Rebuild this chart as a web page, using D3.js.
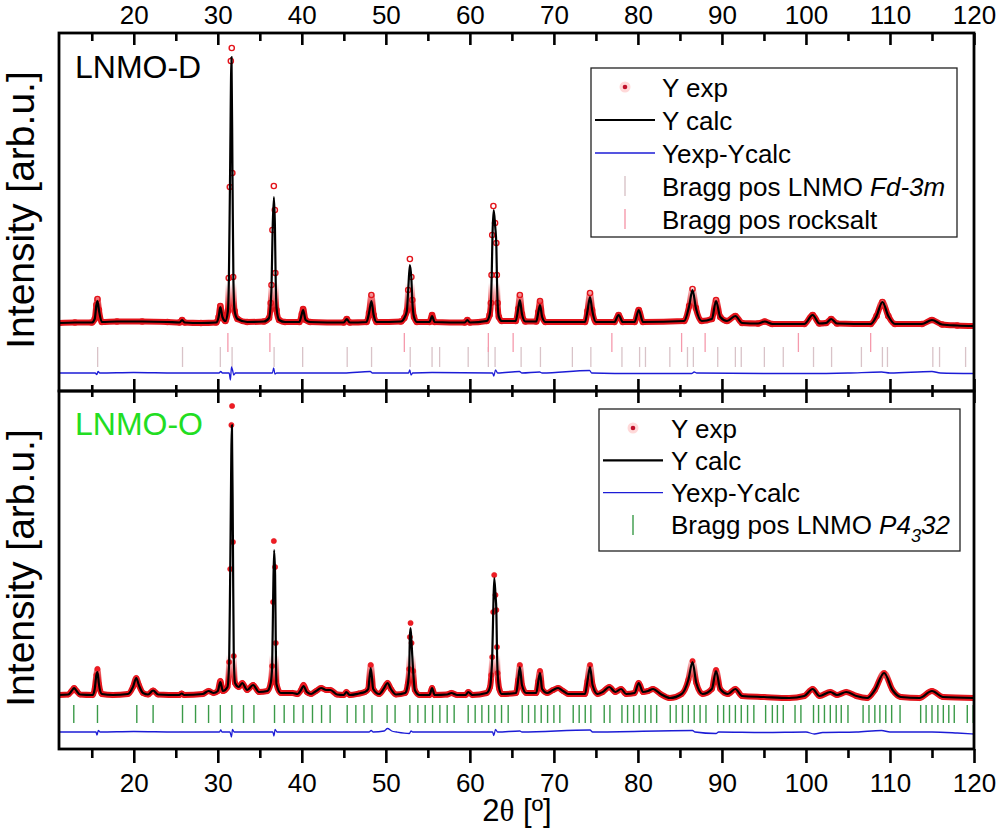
<!DOCTYPE html>
<html>
<head>
<meta charset="utf-8">
<script src="https://cdn.jsdelivr.net/npm/d3@7"></script>
<style>
  body { margin: 0; background: #fff; }
  text { font-family: "Liberation Sans", Arial, sans-serif; }
</style>
</head>
<body>
<svg id="chart" width="1000" height="829"></svg>
<script>
// x axis ticks (2theta, degrees)
var xMajor = [20, 30, 40, 50, 60, 70, 80, 90, 100, 110, 120];
var xMinor = [15, 25, 35, 45, 55, 65, 75, 85, 95, 105, 115];

// ---- LNMO-D (top panel), intensity in arb. units, baseline = 0 ----
var dExp = [[11.1,0],[13,0.5],[15,0.5],[15.35,4],[15.55,18],[15.68,24],[15.85,13],[16.2,1],[18,1.5],[21,1.5],[24,1],
  [25.45,0.5],[25.75,3],[26.05,0.5],[28,0],[29.8,0.5],[30.1,6],[30.3,17],[30.55,6],[30.9,2],
  [31.2,12],[31.3,45],[31.43,136],[31.55,262],[31.66,275],[31.73,150],[31.83,46],[32,12],[32.35,4],[33.5,1],
  [35.5,1.5],[36.1,5],[36.3,20],[36.39,38],[36.5,93],[36.67,137],[36.79,113],[36.85,50],[36.98,13],[37.3,3],[38,1],
  [39.7,1],[40,9],[40.15,14],[40.45,3],[41,1],[45,0.5],[45.35,4],[45.7,0.5],[47.7,1],[48,10],[48.28,28],[48.55,8],[48.9,1],
  [51.8,1.5],[52.2,5],[52.5,12],[52.66,33],[52.86,64],[53.04,46],[53.15,23],[53.35,6],[53.7,1],
  [55.2,1],[55.5,8],[55.8,1],[59.4,0.5],[59.7,3],[60,0.5],[62,2],[62.35,8],[62.5,20],[62.58,48],[62.66,88],[62.8,117],
  [63,100],[63.15,80],[63.21,48],[63.3,20],[63.45,6],[63.8,2],[65.45,2],[65.75,14],[65.95,28],[66.2,9],[66.6,1.5],
  [67.9,1.5],[68.15,11],[68.35,22],[68.6,6],[69,1],[73.7,1],[74,12],[74.3,30],[74.55,13],[75,1],
  [77.2,1],[77.7,8],[78.2,1],[79.6,1],[80.1,13],[80.6,1],[85.5,2],[86.1,17],[86.5,34],[86.9,15],[87.6,2],
  [88.8,4],[89.3,23],[89.8,6],[90.6,2],[91.6,7],[92.4,0],[94.3,-0.5],[95.1,1.5],[96,-1],[99.8,-1],[100.8,8],[101.6,-0.5],
  [102.4,0],[103,4],[103.7,-0.5],[107.7,-1],[108.4,7],[109.1,21],[109.8,7],[110.6,-1],[113.8,-1],[115,3],[116.2,-1.5],
  [118,-2.5],[120,-3]];

var dCalc = [[11.1,0],[13,0.5],[15,0.5],[15.35,4],[15.55,18],[15.68,22],[15.85,13],[16.2,1],[18,1.5],[21,1.5],[24,1],
  [25.45,0.5],[25.75,3],[26.05,0.5],[28,0],[29.8,0.5],[30.1,6],[30.3,16],[30.55,6],[30.9,2],
  [31.2,12],[31.32,45],[31.45,140],[31.63,266],[31.75,145],[31.86,42],[32,12],[32.35,4],[33.5,1],
  [35.5,1.5],[36.1,5],[36.3,20],[36.4,38],[36.52,92],[36.68,126],[36.8,96],[36.88,48],[37,14],[37.3,3],[38,1],
  [39.7,1],[40,9],[40.15,13],[40.45,3],[41,1],[45,0.5],[45.35,4],[45.7,0.5],[47.7,1],[48,10],[48.28,22],[48.55,8],[48.9,1],
  [51.8,1.5],[52.2,5],[52.5,12],[52.66,33],[52.86,58],[53.04,44],[53.15,22],[53.35,6],[53.7,1],
  [55.2,1],[55.5,7],[55.8,1],[59.4,0.5],[59.7,3],[60,0.5],[62,2],[62.35,8],[62.5,20],[62.6,48],[62.7,90],[62.84,113],
  [63.02,96],[63.15,78],[63.22,46],[63.3,20],[63.45,6],[63.8,2],[65.45,2],[65.75,14],[65.95,23],[66.2,9],[66.6,1.5],
  [67.9,1.5],[68.15,11],[68.35,18],[68.6,6],[69,1],[73.7,1],[74,12],[74.3,26],[74.55,13],[75,1],
  [77.2,1],[77.7,8],[78.2,1],[79.6,1],[80.1,13],[80.6,1],[85.5,2],[86.1,17],[86.5,33],[86.9,15],[87.6,2],
  [88.8,4],[89.3,22],[89.8,6],[90.6,2],[91.6,7],[92.4,0],[94.3,-0.5],[95.1,1.5],[96,-1],[99.8,-1],[100.8,8],[101.6,-0.5],
  [102.4,0],[103,4],[103.7,-0.5],[107.7,-1],[108.4,7],[109.1,21],[109.8,7],[110.6,-1],[113.8,-1],[115,3],[116.2,-1.5],
  [118,-2.5],[120,-3]];

var dDiff = [[11.1,-50],[15.4,-50],[15.6,-51.5],[15.75,-48.5],[15.95,-50],[20,-49.5],[25,-50],[30.15,-50],[30.35,-48.5],
  [30.55,-50],[31.35,-50],[31.5,-57],[31.63,-44],[31.75,-47],[31.9,-52],[32.1,-50],[36.5,-50],[36.65,-45],[36.8,-51],
  [37,-50],[45,-50],[48.15,-48.5],[48.4,-50],[52.7,-50],[52.85,-47],[53,-52],[53.2,-50],[55.5,-49.5],[62.7,-50],
  [62.85,-53],[63.05,-47],[63.3,-50],[65.9,-48.5],[66.2,-50],[68.3,-49],[68.6,-50],[74.25,-47.5],[74.5,-50],[80,-50.5],
  [86.4,-50.5],[86.7,-49],[87,-50],[95,-50.5],[100,-50.5],[105,-50],[109,-49],[110,-50],[115,-48.5],[116,-50],[120,-50.5]];

var braggFd3m = [15.7, 25.8, 30.3, 31.7, 36.7, 40.1, 45.4, 48.3, 52.9, 55.5, 56.4, 59.8, 62.2, 63.0, 66.1, 68.4,
  72.2, 74.4, 78.1, 80.2, 80.9, 83.8, 85.9, 86.6, 89.5, 91.6, 92.3, 95.05, 97.3, 100.9, 103.05, 106.6, 109.1, 109.7,
  115.1, 115.9, 119.0];
var braggRocksalt = [31.2, 36.2, 52.2, 62.2, 65.15, 76.9, 85.2, 88.0, 99.1, 107.7];

// ---- LNMO-O (bottom panel) ----
var oExp = [[11.1,0],[12.2,0.5],[12.6,4],[12.9,7],[13.2,4],[13.6,0.5],[15.1,0],[15.35,6],[15.55,20],[15.68,26],[15.85,11],
  [16.2,1],[17.5,0],[19.3,1],[19.9,8],[20.3,17],[20.6,10],[21.1,2],[21.7,0.5],[22.3,4.5],[22.9,0.5],[25.4,0],[25.7,1.5],
  [26,0],[28.2,1],[28.9,4],[29.5,2],[30,4],[30.3,14],[30.6,4],[31.15,8],[31.35,33],[31.48,126],[31.62,270],[31.7,289],
  [31.8,153],[31.9,39],[32.05,12],[32.5,8],[32.9,12],[33.5,5],[34.2,10],[34.9,3],[35.9,4],[36.3,12],[36.47,29],[36.58,93],
  [36.67,154],[36.82,128],[36.9,52],[36.98,11],[37.5,2],[38.9,2],[39.5,1],[39.9,5],[40.2,10],[40.6,3],[41.1,1],[41.7,4],
  [42.3,7],[42.9,5],[43.4,5],[44.2,0.5],[45,0],[45.3,3],[45.7,0],[46.8,1.5],[47.5,3],[47.9,6],[48.2,30],[48.5,6],[49.2,1],
  [49.8,7],[50.2,12],[50.6,6],[51.2,0.5],[52.3,2],[52.6,10],[52.78,26],[52.86,58],[52.94,72],[53.06,52],[53.25,24],
  [53.45,5],[54,0],[55.2,0],[55.5,7],[55.8,0],[57.3,0.5],[57.8,2],[58.5,0],[59.5,0],[59.8,3],[60.3,0],[62,2],[62.4,8],
  [62.55,20],[62.66,38],[62.78,83],[62.9,120],[63.05,100],[63.15,85],[63.22,48],[63.3,22],[63.5,6],[63.8,1],[65.5,2],
  [65.75,15],[65.95,30],[66.2,10],[66.7,2],[67.9,2],[68.15,14],[68.35,24],[68.6,6],[69.2,2],[69.9,5],[70.5,7],[71.1,4],
  [71.7,1],[73.7,1],[74,14],[74.3,30],[74.6,10],[75.2,1],[75.8,3],[76.6,8],[77.3,3],[78,6],[78.6,1],[79.6,2],[80.1,12],
  [80.6,3],[81.2,4],[81.8,6],[82.7,1],[83.8,-3],[85.2,1],[86,15],[86.5,34],[86.95,12],[87.7,1],[88.8,6],[89.3,25],
  [89.8,6],[90.7,1],[91.6,6],[92.4,-1],[95,-2],[98,-3],[99.8,-1],[100.8,6],[101.6,-1],[102.9,3],[103.7,0],[104.8,3],
  [106,-1],[107.3,-3],[108.2,5],[109.3,22],[110.3,5],[111.3,-2],[113.5,-3],[115,4],[116.3,-2],[120,-3]];

var oCalc = [[11.1,0],[12.2,0.5],[12.6,4],[12.9,7],[13.2,4],[13.6,0.5],[15.1,0],[15.35,6],[15.55,20],[15.68,23],[15.85,11],
  [16.2,1],[17.5,0],[19.3,1],[19.9,8],[20.3,17],[20.6,10],[21.1,2],[21.7,0.5],[22.3,4.5],[22.9,0.5],[25.4,0],[25.7,1.5],
  [26,0],[28.2,1],[28.9,4],[29.5,2],[30,4],[30.3,13],[30.6,4],[31.15,8],[31.35,33],[31.48,126],[31.68,270],
  [31.8,153],[31.9,39],[32.05,12],[32.5,8],[32.9,12],[33.5,5],[34.2,10],[34.9,3],[35.9,4],[36.3,12],[36.47,29],[36.58,93],
  [36.7,145],[36.82,120],[36.9,52],[36.98,11],[37.5,2],[38.9,2],[39.5,1],[39.9,5],[40.2,9],[40.6,3],[41.1,1],[41.7,4],
  [42.3,7],[42.9,5],[43.4,5],[44.2,0.5],[45,0],[45.3,3],[45.7,0],[46.8,1.5],[47.5,3],[47.9,6],[48.2,27],[48.5,6],[49.2,1],
  [49.8,7],[50.2,12],[50.6,6],[51.2,0.5],[52.3,2],[52.6,10],[52.78,26],[52.86,58],[52.94,67],[53.06,52],[53.25,24],
  [53.45,5],[54,0],[55.2,0],[55.5,7],[55.8,0],[57.3,0.5],[57.8,2],[58.5,0],[59.5,0],[59.8,3],[60.3,0],[62,2],[62.4,8],
  [62.55,20],[62.66,38],[62.78,83],[62.9,117],[63.05,100],[63.15,85],[63.22,48],[63.3,22],[63.5,6],[63.8,1],[65.5,2],
  [65.75,15],[65.95,28],[66.2,10],[66.7,2],[67.9,2],[68.15,14],[68.35,22],[68.6,6],[69.2,2],[69.9,5],[70.5,7],[71.1,4],
  [71.7,1],[73.7,1],[74,14],[74.3,28],[74.6,10],[75.2,1],[75.8,3],[76.6,8],[77.3,3],[78,6],[78.6,1],[79.6,2],[80.1,12],
  [80.6,3],[81.2,4],[81.8,6],[82.7,1],[83.8,-3],[85.2,1],[86,15],[86.5,33],[86.95,12],[87.7,1],[88.8,6],[89.3,24],
  [89.8,6],[90.7,1],[91.6,6],[92.4,-1],[95,-2],[98,-3],[99.8,-1],[100.8,6],[101.6,-1],[102.9,3],[103.7,0],[104.8,3],
  [106,-1],[107.3,-3],[108.2,5],[109.3,22],[110.3,5],[111.3,-2],[113.5,-3],[115,4],[116.3,-2],[120,-3]];

var oDiff = [[11.1,-37],[15.5,-37],[15.62,-40],[15.78,-35.5],[16,-37],[20,-36.5],[25,-37],[30.2,-37],[30.35,-35],
  [30.5,-37],[31.45,-37],[31.62,-42],[31.75,-34.5],[31.95,-37],[36.55,-37],[36.68,-41],[36.82,-34.5],[37.05,-37],
  [40,-37],[48,-37],[48.25,-35.5],[48.5,-37],[49.8,-36],[50.2,-33.5],[50.7,-36],[51.3,-37],[52.8,-38.5],[53,-36],
  [53.2,-37],[62.7,-37],[62.85,-40.5],[63.05,-34.5],[63.3,-37],[65.95,-36],[66.2,-37],[74.3,-35],[74.6,-37],
  [86.5,-35.5],[86.8,-37],[89.3,-38.5],[89.6,-37],[95,-37.5],[100,-37],[101,-39],[102,-37.5],[106,-37],[109,-35.5],
  [110,-37],[115,-37],[118,-38],[120,-39]];

var braggP4332 = [12.86, 15.68, 20.36, 22.3, 25.8, 27.35, 28.9, 30.3, 31.67, 33.06, 34.3, 36.75, 37.9, 39.05, 40.15,
  41.27, 42.35, 43.37, 45.4, 46.43, 47.4, 48.35, 50.15, 51.1, 52.86, 53.81, 54.68, 55.56, 56.43, 57.3, 58.13, 59.8,
  60.63, 61.43, 62.23, 62.98, 63.77, 64.56, 66.23, 66.98, 67.74, 68.49, 69.25, 70.0, 70.71, 72.3, 73.01, 73.73, 74.4,
  75.99, 76.67, 78.1, 78.77, 79.49, 80.15, 80.87, 81.55, 82.23, 83.85, 84.55, 85.3, 86.0, 86.7, 87.4, 88.1, 89.5,
  90.2, 90.9, 91.6, 92.3, 93.05, 93.8, 95.2, 96.0, 96.6, 97.3, 98.7, 99.4, 100.9, 101.5, 102.2, 102.9, 103.6, 104.2,
  105.0, 106.8, 107.5, 108.2, 108.8, 109.5, 110.2, 111.2, 113.65, 114.3, 115.0, 115.7, 116.35, 117.0, 117.65, 119.2,
  119.9];

var left = 59, right = 974;
var svg = d3.select("#chart");

var x = d3.scaleLinear().domain([11.1, 120]).range([left, right]);

var cRed = "#e3141b", cBlue = "#1c1cd6", cGreen = "#3a9a48";

function drawPanel(p) {
  var y = d3.scaleLinear().domain(p.yDomain).range([p.bottom, p.top]);
  var g = svg.append("g");

  g.append("clipPath").attr("id", "clip" + p.id)
    .append("rect").attr("x", left).attr("y", p.top).attr("width", right - left).attr("height", p.bottom - p.top);

  // the exp markers only merge into a solid band where the pattern is flat-ish,
  // so fade the band out going up the tall peaks
  var grad = g.append("linearGradient").attr("id", "fade" + p.id)
    .attr("gradientUnits", "userSpaceOnUse")
    .attr("x1", 0).attr("x2", 0).attr("y1", y(40)).attr("y2", y(14));
  grad.append("stop").attr("offset", 0).attr("stop-color", "#fff").attr("stop-opacity", 0);
  grad.append("stop").attr("offset", 1).attr("stop-color", "#fff").attr("stop-opacity", 1);
  g.append("mask").attr("id", "band" + p.id)
    .attr("maskUnits", "userSpaceOnUse")
    .attr("x", left).attr("y", p.top).attr("width", right - left).attr("height", p.bottom - p.top)
    .append("rect").attr("x", left).attr("y", p.top).attr("width", right - left).attr("height", p.bottom - p.top)
    .attr("fill", "url(#fade" + p.id + ")");

  var plot = g.append("g").attr("clip-path", "url(#clip" + p.id + ")");

  // bragg position rows
  p.bragg.forEach(function(b) {
    plot.selectAll(null).data(b.pos).enter().append("line")
      .attr("x1", function(d) { return x(d); })
      .attr("x2", function(d) { return x(d); })
      .attr("y1", y(b.from)).attr("y2", y(b.to))
      .attr("stroke", b.color).attr("stroke-width", b.w);
  });

  var line = d3.line()
    .x(function(d) { return x(d[0]); })
    .y(function(d) { return y(d[1]); })
    .curve(d3.curveMonotoneX);

  // Yexp - Ycalc
  plot.append("path").attr("d", line(p.diff))
    .attr("fill", "none").attr("stroke", cBlue).attr("stroke-width", 1.3);

  // Y exp
  plot.append("path").attr("d", line(p.exp))
    .attr("mask", "url(#band" + p.id + ")")
    .attr("fill", "none").attr("stroke", cRed).attr("stroke-width", 6)
    .attr("stroke-linejoin", "round");
  plot.selectAll(null).data(p.exp).enter().append("circle")
    .attr("cx", function(d) { return x(d[0]); })
    .attr("cy", function(d) { return y(d[1]); })
    .attr("r", 2.6)
    .attr("fill", p.openMarks ? "none" : "#ee1c24")
    .attr("stroke", cRed).attr("stroke-width", p.openMarks ? 1.4 : 0.6);

  // Y calc
  plot.append("path").attr("d", line(p.calc))
    .attr("fill", "none").attr("stroke", "#000").attr("stroke-width", 2.2)
    .attr("stroke-linejoin", "round");

  // frame
  g.append("rect").attr("x", left).attr("y", p.top)
    .attr("width", right - left).attr("height", p.bottom - p.top)
    .attr("fill", "none").attr("stroke", "#000").attr("stroke-width", 2.8);

  // y title
  g.append("text")
    .attr("transform", "translate(34," + p.labelY + ") rotate(-90)")
    .attr("text-anchor", "middle").attr("font-size", 39).attr("fill", "#000")
    .text("Intensity [arb.u.]");

  // sample name
  g.append("text").attr("x", 75).attr("y", p.nameY)
    .attr("font-size", 32).attr("fill", p.nameColor).text(p.name);

  return y;
}

function tickAxis(axis, ypos) {
  var a = svg.append("g").attr("transform", "translate(0," + ypos + ")").call(axis);
  a.select(".domain").remove();
  a.selectAll(".tick line").attr("stroke", "#000").attr("stroke-width", 2.6);
  a.selectAll(".tick text").attr("font-size", 26).attr("fill", "#000")
    .attr("font-family", "'Liberation Sans', Arial, sans-serif");
  return a;
}

drawPanel({
  id: "D", top: 33, bottom: 391, yDomain: [-68, 290],
  exp: dExp, calc: dCalc, diff: dDiff, openMarks: true,
  bragg: [
    { pos: braggFd3m, from: -24, to: -44, color: "#d9c3c8", w: 1.3 },
    { pos: braggRocksalt, from: -10, to: -29, color: "#f59aac", w: 1.3 }
  ],
  labelY: 210, name: "LNMO-D", nameY: 78, nameColor: "#000"
});

drawPanel({
  id: "O", top: 391, bottom: 749, yDomain: [-54, 304],
  exp: oExp, calc: oCalc, diff: oDiff, openMarks: false,
  bragg: [
    { pos: braggP4332, from: -10, to: -28, color: cGreen, w: 1.4 }
  ],
  labelY: 568, name: "LNMO-O", nameY: 435, nameColor: "#22dd22"
});

// axes: top of upper panel (labels), shared middle edge, bottom (labels)
tickAxis(d3.axisTop(x).tickValues(xMajor).tickSize(-12).tickPadding(9).tickFormat(d3.format("d")), 33);
tickAxis(d3.axisTop(x).tickValues(xMinor).tickSize(-8).tickFormat(""), 33);
tickAxis(d3.axisBottom(x).tickValues(xMajor).tickSize(-12).tickFormat(""), 391);
tickAxis(d3.axisBottom(x).tickValues(xMinor).tickSize(-6).tickFormat(""), 391);
tickAxis(d3.axisTop(x).tickValues(xMajor).tickSize(-12).tickFormat(""), 391);
tickAxis(d3.axisTop(x).tickValues(xMinor).tickSize(-6).tickFormat(""), 391);
tickAxis(d3.axisBottom(x).tickValues(xMajor).tickSize(14).tickPadding(11).tickFormat(d3.format("d")), 749);
tickAxis(d3.axisBottom(x).tickValues(xMinor).tickSize(9).tickFormat(""), 749);

// x title
var xt = svg.append("text").attr("x", 517).attr("y", 821)
  .attr("text-anchor", "middle").attr("font-size", 31).attr("fill", "#000");
xt.append("tspan").text("2");
xt.append("tspan").attr("font-family", "'Liberation Serif', 'DejaVu Serif', serif").text("\u03B8");
xt.append("tspan").text(" [\u00BA]");

// legends
function legend(box, rows) {
  var g = svg.append("g");
  g.append("rect").attr("x", box.x).attr("y", box.y).attr("width", box.w).attr("height", box.h)
    .attr("fill", "#fff").attr("stroke", "#222").attr("stroke-width", 1.3);
  rows.forEach(function(r, i) {
    var cy = box.row0 + i * box.step;
    if (r.type === "dot") {
      g.append("circle").attr("cx", box.sx).attr("cy", cy).attr("r", 5.5).attr("fill", "#ffd9d9");
      g.append("circle").attr("cx", box.sx).attr("cy", cy).attr("r", 2.3).attr("fill", "#c0102a");
    } else if (r.type === "line") {
      g.append("line").attr("x1", box.sx - 30).attr("x2", box.sx + 30).attr("y1", cy).attr("y2", cy)
        .attr("stroke", r.color).attr("stroke-width", r.w);
    } else {
      g.append("line").attr("x1", box.sx).attr("x2", box.sx).attr("y1", cy - 10).attr("y2", cy + 10)
        .attr("stroke", r.color).attr("stroke-width", 1.4);
    }
    var t = g.append("text").attr("x", box.tx).attr("y", cy + 9.5).attr("font-size", 26).attr("fill", "#000");
    r.text.forEach(function(s) {
      var ts = t.append("tspan").text(s.t);
      if (s.i) ts.attr("font-style", "italic");
      if (s.sub) ts.attr("font-size", 18).attr("dy", 8);
      if (s.up) ts.attr("dy", -8);
    });
  });
}

legend({ x: 591, y: 68, w: 366, h: 169, row0: 87, step: 33, sx: 625, tx: 662 }, [
  { type: "dot", text: [{ t: "Y exp" }] },
  { type: "line", color: "#000", w: 2.2, text: [{ t: "Y calc" }] },
  { type: "line", color: cBlue, w: 1.3, text: [{ t: "Yexp-Ycalc" }] },
  { type: "tick", color: "#d9c3c8", text: [{ t: "Bragg pos LNMO " }, { t: "Fd-3m", i: true }] },
  { type: "tick", color: "#f59aac", text: [{ t: "Bragg pos rocksalt" }] }
]);

legend({ x: 599, y: 409, w: 361, h: 142, row0: 428, step: 32.3, sx: 633, tx: 671 }, [
  { type: "dot", text: [{ t: "Y exp" }] },
  { type: "line", color: "#000", w: 2.2, text: [{ t: "Y calc" }] },
  { type: "line", color: cBlue, w: 1.3, text: [{ t: "Yexp-Ycalc" }] },
  { type: "tick", color: cGreen, text: [{ t: "Bragg pos LNMO " }, { t: "P4", i: true },
    { t: "3", i: true, sub: true }, { t: "32", i: true, up: true }] }
]);
</script>
</body>
</html>
